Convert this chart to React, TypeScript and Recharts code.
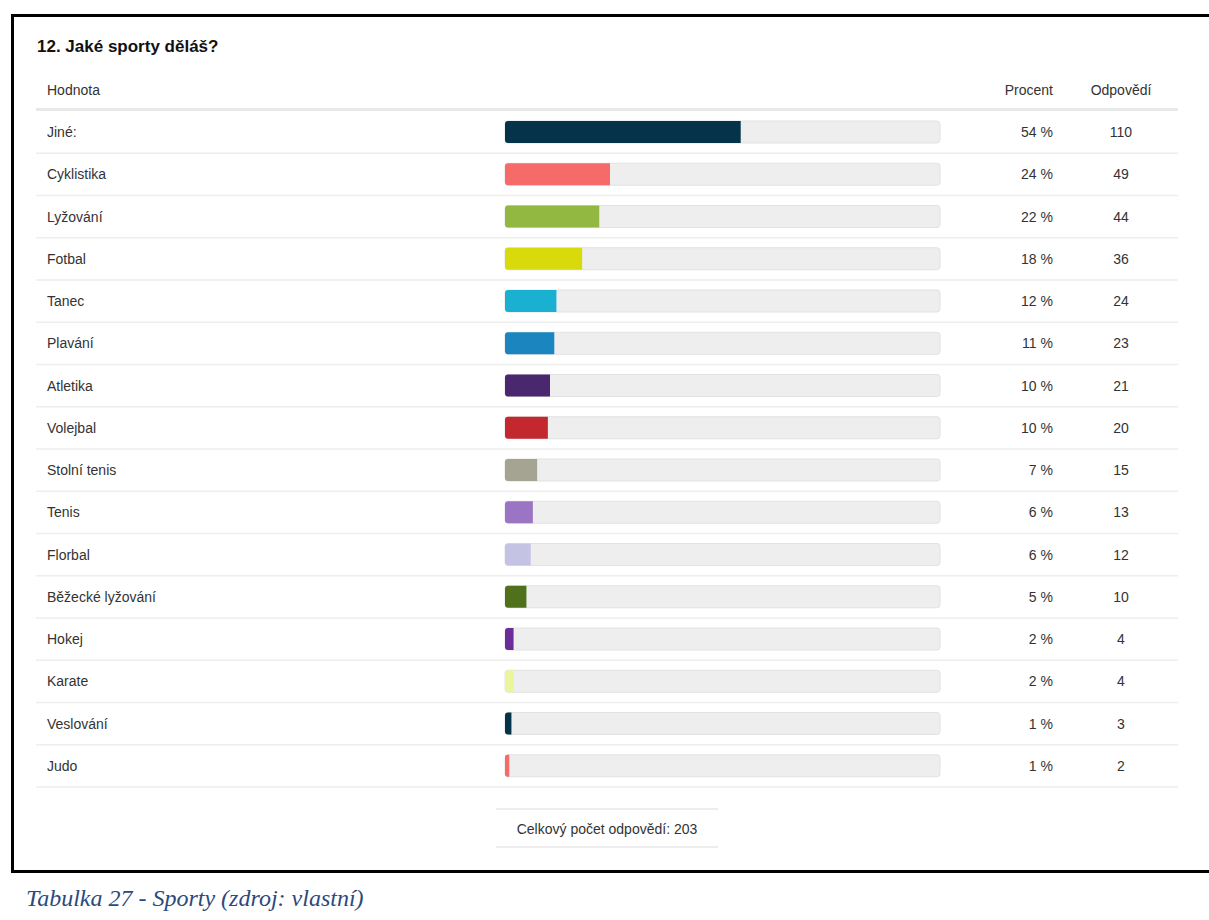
import React from "react";
import { BarChart, Bar, XAxis, YAxis, Cell } from "recharts";

const sports = [
  "Jiné:", "Cyklistika", "Lyžování", "Fotbal", "Tanec", "Plavání", "Atletika", "Volejbal",
  "Stolní tenis", "Tenis", "Florbal", "Běžecké lyžování", "Hokej", "Karate", "Veslování", "Judo",
];
const answers = [110, 49, 44, 36, 24, 23, 21, 20, 15, 13, 12, 10, 4, 4, 3, 2];
const percents = [54, 24, 22, 18, 12, 11, 10, 10, 7, 6, 6, 5, 2, 2, 1, 1];
const colors = [
  "#05344a", "#f76a6a", "#93b841", "#d8da0b", "#1ab0d2", "#1a85bf", "#4a2870", "#c4282f",
  "#a5a391", "#9b74c4", "#c4c3e4", "#51701c", "#6c2d99", "#eaf59c", "#05344a", "#f76a6a",
];
const total = 203;

const data = sports.map((name, i) => ({
  name,
  share: (answers[i] / total) * 100,
  percent: percents[i],
  count: answers[i],
}));

const FONT = "'Liberation Sans', Arial, sans-serif";
const ROW_H = 676 / sports.length;

function LabelTick(props: any) {
  const { y, payload } = props;
  return (
    <g>
      <text x={47} y={y} dy={5} fontSize={14} fill="#333" fontFamily={FONT}>
        {payload.value}
      </text>
      <line x1={36} x2={1178} y1={y + ROW_H / 2} y2={y + ROW_H / 2} stroke="#eeeeee" strokeWidth={1.5} />
    </g>
  );
}

function ValueTick(props: any) {
  const { y, payload } = props;
  const row = data[payload.index];
  return (
    <g fontFamily={FONT} fontSize={14} fill="#333">
      <text x={1053} y={y} dy={5} textAnchor="end">{row.percent} %</text>
      <text x={1121} y={y} dy={5} textAnchor="middle">{row.count}</text>
    </g>
  );
}

const abs = (left: number, top: number, extra: React.CSSProperties = {}): React.CSSProperties => ({
  position: "absolute",
  left,
  top,
  ...extra,
});

export default function App() {
  return (
    <div
      style={{
        position: "absolute",
        left: 0,
        top: 0,
        width: 1209,
        height: 920,
        overflow: "hidden",
        background: "#fff",
        fontFamily: FONT,
        color: "#333",
      }}
    >
      <div style={abs(11, 14, { width: 1240, height: 853, border: "3px solid #000" })} />

      <div style={abs(37, 36, { fontSize: 17, fontWeight: "bold", color: "#111", lineHeight: "22px" })}>
        12. Jaké sporty děláš?
      </div>
      <div style={abs(47, 80, { fontSize: 14, lineHeight: "20px" })}>Hodnota</div>
      <div style={abs(953, 80, { width: 100, textAlign: "right", fontSize: 14, lineHeight: "20px" })}>Procent</div>
      <div style={abs(1071, 80, { width: 100, textAlign: "center", fontSize: 14, lineHeight: "20px" })}>Odpovědí</div>
      <div style={abs(36, 108, { width: 1142, height: 3, background: "#e8e8e8" })} />

      <div style={abs(0, 0)}>
        <BarChart
          width={1209}
          height={800}
          data={data}
          layout="vertical"
          margin={{ top: 111, right: 0, left: 0, bottom: 13 }}
        >
          <XAxis type="number" domain={[0, 100]} hide />
          <YAxis
            yAxisId="left"
            type="category"
            dataKey="name"
            width={505}
            axisLine={false}
            tickLine={false}
            tick={<LabelTick />}
            interval={0}
          />
          <YAxis
            yAxisId="right"
            orientation="right"
            type="category"
            dataKey="name"
            width={269}
            axisLine={false}
            tickLine={false}
            tick={<ValueTick />}
            interval={0}
          />
          <Bar
            yAxisId="left"
            dataKey="share"
            barSize={22}
            radius={[3, 0, 0, 3]}
            background={{ fill: "#eeeeee", stroke: "#e2e2e2", strokeWidth: 1, radius: 3 } as any}
            isAnimationActive={false}
          >
            {data.map((_, i) => (
              <Cell key={i} fill={colors[i]} />
            ))}
          </Bar>
        </BarChart>
      </div>

      <div style={abs(496, 808, { width: 222, height: 2, background: "#eeeeee" })} />
      <div style={abs(496, 819, { width: 222, textAlign: "center", fontSize: 14, lineHeight: "20px" })}>
        Celkový počet odpovědí: 203
      </div>
      <div style={abs(496, 846, { width: 222, height: 2, background: "#eeeeee" })} />

      <div
        style={abs(26, 884, {
          fontFamily: "'Liberation Serif', 'Times New Roman', serif",
          fontStyle: "italic",
          fontSize: 24,
          color: "#2b4a7e",
          lineHeight: "28px",
          whiteSpace: "nowrap",
        })}
      >
        Tabulka 27 - Sporty (zdroj: vlastní)
      </div>
    </div>
  );
}
